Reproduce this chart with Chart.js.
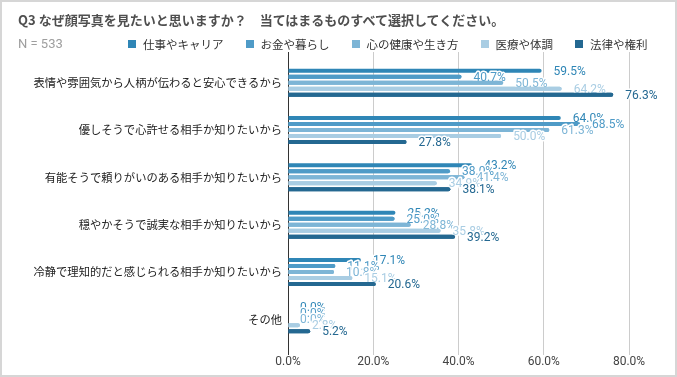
<!DOCTYPE html>
<html>
<head>
<meta charset="utf-8">
<script src="https://cdn.jsdelivr.net/npm/chart.js@4.4.1/dist/chart.umd.min.js"></script>
<style>
html,body{margin:0;padding:0;background:#fff;}
#wrap{position:relative;width:677px;height:377px;overflow:hidden;background:#fff;}
#chart{position:absolute;left:0;top:0;}
#frame{position:absolute;left:0;top:0;width:673px;height:373px;border:2px solid #d6d6d6;pointer-events:none;}
#title{position:absolute;left:18px;top:11px;font-family:"Noto Sans CJK JP";font-weight:bold;font-size:13px;line-height:18px;color:#4f4f4f;white-space:pre;}
#nlabel{position:absolute;left:18px;top:36px;font-family:Roboto;font-size:13px;line-height:16px;color:#9e9e9e;white-space:nowrap;}
#legend{position:absolute;left:128px;top:36px;height:16px;display:flex;align-items:center;white-space:nowrap;}
#legend .item{display:flex;align-items:center;margin-right:22px;font-family:"Noto Sans CJK JP";font-size:11.5px;line-height:16px;color:#333;background:#fff;}
#legend .box{width:8px;height:8px;margin-right:7px;}
</style>
</head>
<body>
<div id="wrap">
  <canvas id="chart" width="677" height="377"></canvas>
  <div id="title">Q3 なぜ顔写真を見たいと思いますか？　当てはまるものすべて選択してください。</div>
  <div id="nlabel">N = 533</div>
  <div id="legend"></div>
  <div id="frame"></div>
</div>
<script>
// ---- data ----
const categories = [
  '表情や雰囲気から人柄が伝わると安心できるから',
  '優しそうで心許せる相手か知りたいから',
  '有能そうで頼りがいのある相手か知りたいから',
  '穏やかそうで誠実な相手か知りたいから',
  '冷静で理知的だと感じられる相手か知りたいから',
  'その他'
];
const seriesNames = ['仕事やキャリア', 'お金や暮らし', '心の健康や生き方', '医療や体調', '法律や権利'];
const careerValues  = [59.5, 64.0, 43.2, 25.2, 17.1, 0.0];
const moneyValues   = [40.7, 68.5, 38.0, 25.0, 11.1, 0.0];
const mindValues    = [50.5, 61.3, 41.4, 28.8, 10.8, 0.0];
const medicalValues = [64.2, 50.0, 34.9, 35.8, 15.1, 2.8];
const lawValues     = [76.3, 27.8, 38.1, 39.2, 20.6, 5.2];
const xTickValues   = [0, 20, 40, 60, 80];

// ---- styles ----
const seriesColors = ['#2f86b6', '#4f9bc7', '#7db5d6', '#a9cde3', '#246891'];
const allSeries = [careerValues, moneyValues, mindValues, medicalValues, lawValues];

// legend (HTML, built from series names/colors)
const legendEl = document.getElementById('legend');
seriesNames.forEach((name, i) => {
  const item = document.createElement('span');
  item.className = 'item';
  const box = document.createElement('span');
  box.className = 'box';
  box.style.background = seriesColors[i];
  const txt = document.createElement('span');
  txt.textContent = name;
  item.appendChild(box);
  item.appendChild(txt);
  legendEl.appendChild(item);
});

const fmt = v => v.toFixed(1) + '%';

const valueLabels = {
  id: 'valueLabels',
  afterDatasetsDraw(chart) {
    const ctx = chart.ctx;
    const n = chart.data.datasets.length;
    for (let i = 0; i < n; i++) {
      const meta = chart.getDatasetMeta(i);
      if (i > 0) {
        ctx.save();
        meta.data.forEach(el => el.draw(ctx));
        ctx.restore();
      }
      ctx.save();
      ctx.font = '12px Roboto';
      ctx.textBaseline = 'middle';
      ctx.textAlign = 'left';
      ctx.lineJoin = 'round';
      ctx.lineWidth = 3;
      ctx.strokeStyle = '#ffffff';
      ctx.fillStyle = seriesColors[i];
      meta.data.forEach((el, j) => {
        const t = fmt(allSeries[i][j]);
        const x = el.x + 12, y = el.y + 1;
        ctx.strokeText(t, x, y);
        ctx.fillText(t, x, y);
      });
      ctx.restore();
    }
  }
};

const datasets = allSeries.map((vals, i) => ({
  label: seriesNames[i],
  data: vals.map((v, j) => ({ x: v, y: j })),
  backgroundColor: seriesColors[i],
  borderRadius: 2,
  borderSkipped: 'start',
  categoryPercentage: 0.634,
  barPercentage: 0.667
}));

new Chart(document.getElementById('chart'), {
  type: 'bar',
  data: { datasets },
  options: {
    indexAxis: 'y',
    responsive: false,
    animation: false,
    devicePixelRatio: 1,
    layout: { padding: { top: 44, right: 48, left: 0, bottom: 0 } },
    plugins: { legend: { display: false }, tooltip: { enabled: false } },
    scales: {
      x: {
        type: 'linear',
        min: 0,
        max: 80,
        afterBuildTicks: s => { s.ticks = xTickValues.map(v => ({ value: v })); },
        afterFit: s => { s.height = 34; },
        ticks: {
          callback: v => fmt(v),
          font: { family: 'Roboto', size: 12 },
          color: '#444',
          padding: 0,
          maxRotation: 0
        },
        grid: {
          color: c => (c.tick && c.tick.value === 0) ? '#333' : '#cccccc',
          tickColor: c => (c.tick && c.tick.value === 0) ? '#333' : '#cccccc',
          drawTicks: true,
          tickLength: 12,
          lineWidth: 1
        },
        border: { display: false }
      },
      y: {
        type: 'linear',
        reverse: true,
        offset: false,
        min: -0.818,
        max: 5.5,
        afterBuildTicks: s => { s.ticks = categories.map((c, i) => ({ value: i })); },
        afterFit: s => { s.width = 288; },
        ticks: {
          callback: v => categories[v],
          font: { family: '"Noto Sans CJK JP"', size: 11.3 },
          color: '#222',
          padding: 6,
          autoSkip: false
        },
        grid: { display: false, drawTicks: false, offset: false },
        border: { display: false }
      }
    }
  },
  plugins: [valueLabels]
});
</script>
</body>
</html>
